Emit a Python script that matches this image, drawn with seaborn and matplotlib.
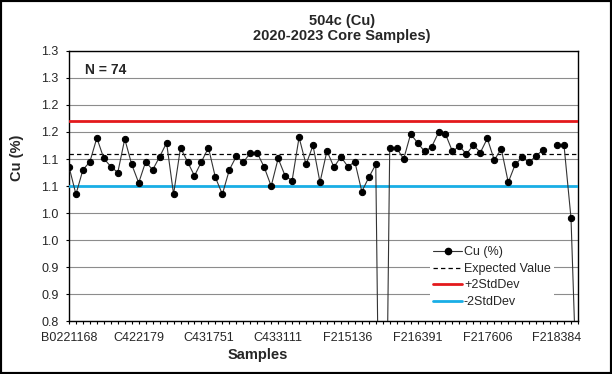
import numpy as np
import pandas as pd
import seaborn as sns
import matplotlib.pyplot as plt
from matplotlib.lines import Line2D
from matplotlib.patches import Rectangle

# Cu (%) per sample, in sample order (None = no result, shown as a gap)
cu = [1.086, 1.035, 1.080, 1.095, 1.139, 1.101, 1.086, 1.075, 1.137, 1.090,
      1.056, 1.095, 1.080, 1.104, 1.130, 1.035, 1.121, 1.095, 1.069, 1.095,
      1.121, 1.066, 1.035, 1.080, 1.105, 1.094, 1.111, 1.111, 1.085, 1.050,
      1.101, 1.069, 1.060, 1.140, 1.090, 1.125, 1.057, 1.115, 1.085, 1.104,
      1.086, 1.095, 1.040, 1.066, 1.090, 0.0, 1.120, 1.120, 1.100, 1.146,
      1.130, 1.114, 1.122, 1.149, 1.146, 1.114, 1.124, 1.109, 1.126, 1.112,
      1.138, 1.098, 1.119, 1.057, 1.090, 1.103, 1.094, 1.106, 1.117, None,
      1.125, 1.125, 0.991, 0.60]

expected = 1.11
plus_2sd = 1.171
minus_2sd = 1.051

tick_samples = ['B0221168', 'C422179', 'C431751', 'C433111',
                'F215136', 'F216391', 'F217606', 'F218384']
tick_index = [0, 10, 20, 30, 40, 50, 60, 70]

y_ticks = [0.80, 0.85, 0.90, 0.95, 1.00, 1.05, 1.10, 1.15, 1.20, 1.25, 1.30]
y_tick_labels = ['0.8', '0.9', '0.9', '1.0', '1.0', '1.1', '1.1',
                 '1.2', '1.2', '1.3', '1.3']

df = pd.DataFrame({'idx': np.arange(len(cu)), 'cu': pd.array(cu, dtype='Float64')})
df['cu'] = df['cu'].astype(float)
df['segment'] = df['cu'].isna().cumsum()
df = df.dropna()

sns.set_style('white')
plt.rcParams['font.family'] = ['Liberation Sans', 'DejaVu Sans']

fig, ax = plt.subplots(figsize=(6.12, 3.74), dpi=100)
fig.subplots_adjust(left=0.1127, right=0.9444, top=0.8644, bottom=0.1404)

red = '#e3191c'
blue = '#19aee6'

ax.axhline(expected, color='black', lw=0.9, ls=(0, (3.5, 2.5)), zorder=3)
ax.axhline(plus_2sd, color=red, lw=2, zorder=3)
ax.axhline(minus_2sd, color=blue, lw=2, zorder=3)

sns.lineplot(data=df, x='idx', y='cu', units='segment', estimator=None,
             color='#333333', lw=0.8, marker='o', markersize=4.5,
             markerfacecolor='black', markeredgecolor='black', ax=ax, zorder=5)

ax.set_xlim(0, len(cu) - 1)
ax.set_ylim(0.8, 1.3)
ax.set_yticks(y_ticks)
ax.set_yticklabels(y_tick_labels)
ax.set_xticks(tick_index)
ax.set_xticklabels(tick_samples)
ax.set_xticks(np.arange(len(cu)), minor=True)

ax.grid(axis='y', color='#8c8c8c', lw=0.8)
ax.set_axisbelow(True)
for s in ax.spines.values():
    s.set_color('black')
    s.set_linewidth(1)

ax.tick_params(axis='both', which='both', direction='out', length=2.4,
               width=0.8, color='black', labelsize=9, pad=5)
ax.tick_params(axis='x', bottom=True, which='both')
ax.tick_params(axis='y', left=True)

ax.set_xlabel('Samples', fontsize=10.5, fontweight='bold')
ax.set_ylabel('Cu (%)', fontsize=10.5, fontweight='bold')
ax.xaxis.set_label_coords(0.371, -0.098)
ax.yaxis.set_label_coords(-0.088, 0.604)

fig.text(342 / 612, 1 - 21 / 374, '504c (Cu)', ha='center', va='center',
         fontsize=10.5, fontweight='bold')
fig.text(342 / 612, 1 - 36 / 374, '2020-2023 Core Samples)', ha='center',
         va='center', fontsize=10.5, fontweight='bold')
fig.text(85 / 612, 1 - 70 / 374, 'N = 74', ha='left', va='center',
         fontsize=10, fontweight='bold')

handles = [
    Line2D([], [], color='#333333', lw=0.8, marker='o', markersize=4.5,
           markerfacecolor='black', markeredgecolor='black'),
    Line2D([], [], color='black', lw=0.9, ls=(0, (3.5, 2.5))),
    Line2D([], [], color=red, lw=2),
    Line2D([], [], color=blue, lw=2),
]
labels = ['Cu (%)', 'Expected Value', '+2StdDev', '-2StdDev']
leg = ax.legend(handles, labels, loc='upper left',
                bbox_to_anchor=(424 / 612, 1 - 237 / 374),
                bbox_transform=fig.transFigure, fontsize=9, frameon=True,
                facecolor='white', edgecolor='none', framealpha=1,
                borderpad=0.25, labelspacing=0.36, handlelength=2.3,
                handletextpad=0.15, fancybox=False)
leg.set_zorder(6)

fig.add_artist(Rectangle((0, 0), 1, 1, transform=fig.transFigure, fill=False,
                         edgecolor='black', lw=3))

plt.savefig('out.png', dpi=100)
